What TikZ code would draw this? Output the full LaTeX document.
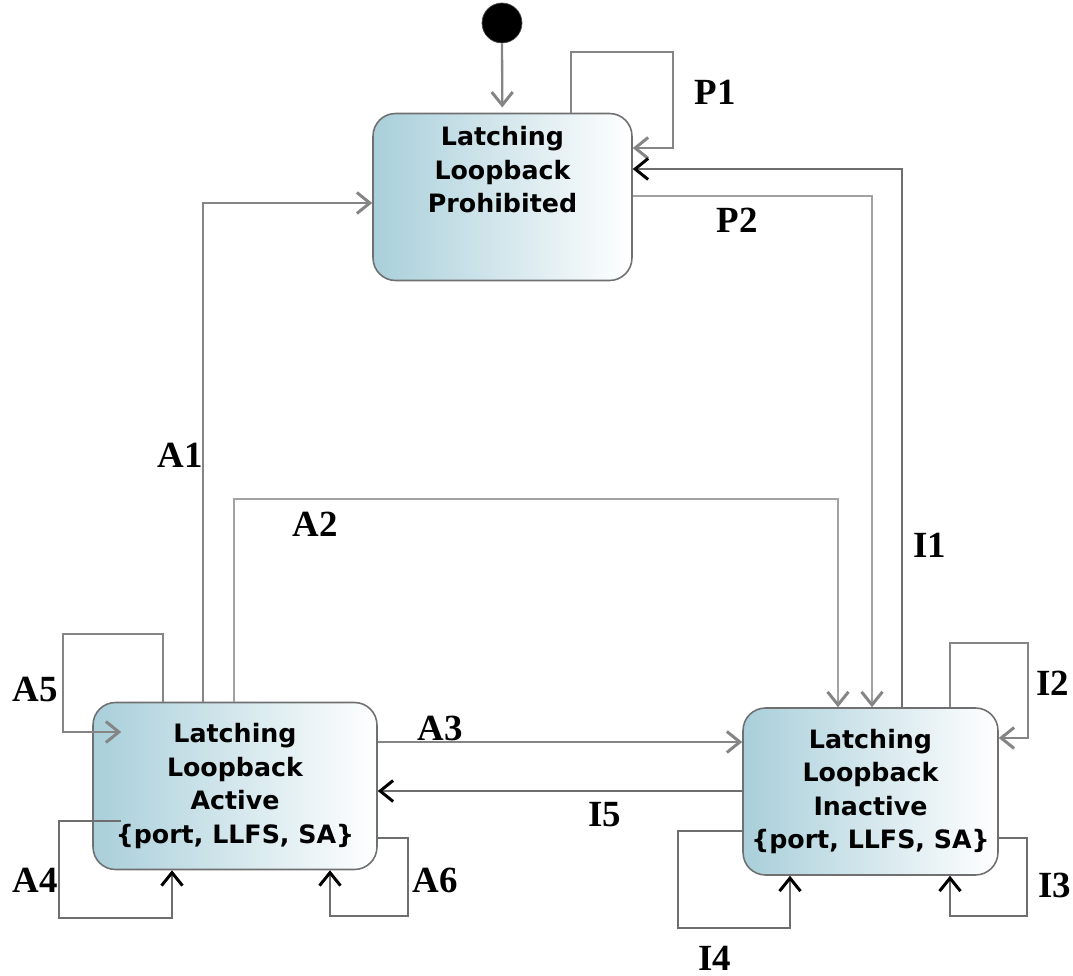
\documentclass[tikz,border=0pt]{standalone}
\usepackage{fontspec}
\setmainfont{Liberation Serif}
\newfontfamily\statefont{DejaVu Sans}
\usetikzlibrary{arrows.meta, positioning}

\definecolor{stateblue}{HTML}{A9CFDA}
\definecolor{boxgray}{HTML}{707070}
\definecolor{edgegray}{HTML}{858585}
\definecolor{edgelight}{HTML}{A2A2A2}
\definecolor{edgedark}{HTML}{6E6E6E}

\begin{document}
\begin{tikzpicture}[x=0.02cm, y=-0.02cm,
    state/.style={draw=boxgray, line width=0.9pt, rounded corners=0.45cm,
        left color=stateblue, right color=white, align=center, inner sep=0pt,
        font=\fontsize{14.4}{19}\statefont\bfseries},
    statetext/.style={align=center, inner sep=0pt, font=\fontsize{14.4}{19}\statefont\bfseries},
    initdot/.style={circle, fill=black, draw=black!70, minimum size=0.8cm, inner sep=0pt},
    tr/.style={draw=edgegray, line width=1.3pt, -{Straight Barb[length=2.6mm, width=4.2mm, line width=1.7pt]}},
    trdark/.style={draw=edgedark, line width=1.3pt, -{Straight Barb[length=2.6mm, width=4.2mm, line width=1.7pt, color=black]}},
    trlight/.style={draw=edgelight, line width=1.3pt, -{Straight Barb[length=2.6mm, width=4.2mm, line width=1.7pt, color=edgegray]}},
    lbl/.style={inner sep=0pt, font=\fontsize{21}{25}\selectfont\bfseries}]

    \useasboundingbox (0,0) rectangle (1073,976);

    % states
    \node[initdot] (init) at (502,23) {};
    \node[state, minimum width=5.18cm, minimum height=3.34cm] (proh) at (502.5,197) {};
    \node[statetext, below=0.27cm of proh.north] (prohtext) {Latching\\Loopback\\Prohibited};
    \node[state, minimum width=5.68cm, minimum height=3.34cm] (act) at (235,786)
        {Latching\\Loopback\\Active\\\{port, LLFS, SA\}};
    \node[state, minimum width=5.1cm, minimum height=3.34cm] (inact) at (870.5,791.5)
        {Latching\\Loopback\\Inactive\\\{port, LLFS, SA\}};

    % transitions
    \draw[tr, shorten >=3pt] (init) -- (proh);
    \draw[tr] (proh.north -| 571,0) |- (673,52) |- (proh.east |- 0,148);
    \draw[trdark] (inact.north -| 902,0) |- (proh.east |- 0,169);
    \draw[trlight] (proh.east |- 0,196) -| (inact.north -| 872,0);
    \draw[tr] (act.north -| 203,0) |- (proh.west |- 0,203);
    \draw[trlight] (act.north -| 234,0) |- (838,499) -- (inact.north -| 838,0);
    \draw[tr] (act.east |- 0,742) -- (inact.west |- 0,742);
    \draw[trdark] (inact.west |- 0,791) -- (act.east |- 0,791);
    \draw[tr, shorten >=-0.58cm] (act.north -| 163,0) |- (63,634) |- (act.west |- 0,732);
    \draw[trdark, shorten <=-0.58cm] (act.west |- 0,821) -| (59,918) -| (act.south -| 172,0);
    \draw[trdark] (act.east |- 0,838) -| (408,916) -| (act.south -| 330,0);
    \draw[tr] (inact.north -| 950,0) |- (1028,643) |- (inact.east |- 0,738);
    \draw[trdark] (inact.east |- 0,838) -| (1027,916) -| (inact.south -| 950,0);
    \draw[trdark] (inact.west |- 0,831) -| (678,928) -| (inact.south -| 790,0);

    % labels
    \node[lbl] (lblP1) at (715,92) {P1};
    \node[lbl] (lblP2) at (737,220) {P2};
    \node[lbl] (lblA1) at (180,455) {A1};
    \node[lbl] (lblA2) at (315,524) {A2};
    \node[lbl] (lblA3) at (440,728) {A3};
    \node[lbl] (lblI5) at (605,815) {I5};
    \node[lbl] (lblA5) at (35,690) {A5};
    \node[lbl] (lblA4) at (35,880) {A4};
    \node[lbl] (lblA6) at (435,880) {A6};
    \node[lbl] (lblI1) at (930,545) {I1};
    \node[lbl] (lblI2) at (1053,683) {I2};
    \node[lbl] (lblI3) at (1055,885) {I3};
    \node[lbl] (lblI4) at (715,958) {I4};
\end{tikzpicture}
\end{document}
